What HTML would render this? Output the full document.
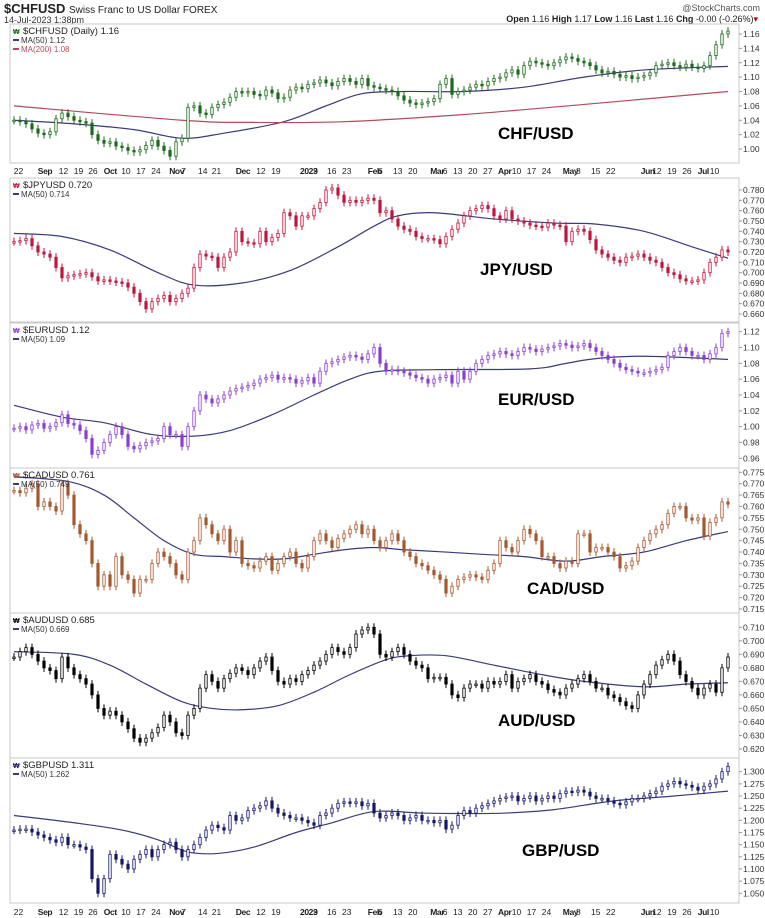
<!DOCTYPE html>
<html><head><meta charset="utf-8"><style>
body{margin:0;background:#fff}
svg{display:block;font-family:"Liberation Sans",Arial,sans-serif}
</style></head><body>
<svg id="c" width="765" height="918" viewBox="0 0 765 918" xmlns="http://www.w3.org/2000/svg">
<text x="4" y="13" font-size="13" font-weight="bold" fill="#222">$CHFUSD <tspan font-size="10" font-weight="normal">Swiss Franc to US Dollar FOREX</tspan></text>
<text x="4" y="23" font-size="9" fill="#333">14-Jul-2023 1:38pm</text>
<text x="760" y="11" font-size="9" fill="#555" text-anchor="end">@StockCharts.com</text>
<text x="758" y="22" font-size="9" fill="#222" text-anchor="end"><tspan font-weight="bold">Open</tspan> 1.16 <tspan font-weight="bold">High</tspan> 1.17 <tspan font-weight="bold">Low</tspan> 1.16 <tspan font-weight="bold">Last</tspan> 1.16 <tspan font-weight="bold">Chg</tspan> -0.00 (-0.26%)<tspan fill="#b00">▾</tspan></text>
</svg>
<script>
const chfClose=[1.040,1.038,1.035,1.028,1.022,1.020,1.024,1.042,1.050,1.045,
1.040,1.038,1.036,1.020,1.012,1.008,1.010,1.004,1.002,0.998,
0.996,0.999,1.005,1.012,1.004,0.998,0.990,1.010,1.015,1.058,
1.060,1.050,1.048,1.058,1.062,1.065,1.072,1.080,1.078,1.080,
1.076,1.074,1.082,1.078,1.070,1.072,1.082,1.086,1.084,1.090,
1.092,1.096,1.092,1.088,1.094,1.098,1.094,1.090,1.098,1.088,
1.086,1.084,1.082,1.080,1.074,1.068,1.064,1.062,1.064,1.066,
1.070,1.090,1.098,1.076,1.080,1.082,1.086,1.090,1.088,1.094,
1.098,1.100,1.106,1.110,1.104,1.116,1.122,1.120,1.118,1.116,
1.120,1.124,1.128,1.126,1.122,1.120,1.116,1.110,1.106,1.108,
1.104,1.100,1.102,1.098,1.100,1.102,1.106,1.116,1.118,1.120,
1.116,1.114,1.118,1.114,1.112,1.116,1.130,1.145,1.160,1.164];
const chfMaIdx=[0,10,20,28,35,45,52,58,65,75,85,95,105,119];
const chfMaVal=[1.040,1.035,1.027,1.015,1.022,1.038,1.060,1.077,1.080,1.080,1.086,1.100,1.110,1.115];
const chfMa200Idx=[0,28,40,55,75,95,119];
const chfMa200Val=[1.060,1.040,1.037,1.038,1.048,1.062,1.080];
const chfTicks=[1.16,1.14,1.12,1.10,1.08,1.06,1.04,1.02,1.00];

const jpyClose=[0.730,0.731,0.733,0.726,0.720,0.718,0.715,0.705,0.695,0.697,
0.698,0.699,0.700,0.696,0.692,0.693,0.692,0.691,0.690,0.686,
0.680,0.672,0.665,0.672,0.675,0.678,0.672,0.675,0.680,0.685,
0.705,0.718,0.716,0.715,0.705,0.715,0.720,0.740,0.730,0.729,
0.728,0.740,0.730,0.734,0.738,0.758,0.755,0.745,0.755,0.755,
0.762,0.768,0.780,0.782,0.775,0.768,0.770,0.768,0.770,0.772,
0.770,0.758,0.760,0.752,0.745,0.742,0.740,0.735,0.733,0.733,
0.732,0.728,0.735,0.742,0.748,0.755,0.760,0.762,0.765,0.762,
0.755,0.752,0.760,0.752,0.750,0.748,0.746,0.745,0.744,0.748,
0.746,0.745,0.730,0.740,0.742,0.740,0.732,0.722,0.718,0.715,
0.712,0.710,0.715,0.716,0.718,0.715,0.712,0.710,0.705,0.700,
0.698,0.694,0.692,0.692,0.693,0.700,0.710,0.715,0.722,0.720];
const jpyMaIdx=[0,8,16,24,30,38,46,54,60,64,70,80,90,97,105,113,119];
const jpyMaVal=[0.738,0.735,0.722,0.700,0.688,0.690,0.702,0.725,0.745,0.755,0.758,0.752,0.748,0.747,0.740,0.725,0.714];
const jpyTicks=[0.780,0.770,0.760,0.750,0.740,0.730,0.720,0.710,0.700,0.690,0.680,0.670,0.660];

const eurClose=[0.998,1.000,0.996,1.002,1.004,0.998,1.000,1.005,1.015,1.004,
1.002,0.995,0.985,0.965,0.970,0.980,0.990,1.000,0.990,0.975,
0.972,0.976,0.980,0.982,0.985,1.000,0.990,0.990,0.975,1.000,
1.020,1.040,1.035,1.030,1.035,1.040,1.045,1.048,1.050,1.052,
1.055,1.060,1.062,1.065,1.060,1.062,1.060,1.055,1.058,1.062,
1.055,1.070,1.080,1.082,1.085,1.088,1.090,1.088,1.085,1.092,
1.100,1.080,1.070,1.072,1.070,1.068,1.065,1.062,1.060,1.055,
1.060,1.062,1.065,1.055,1.070,1.060,1.070,1.080,1.085,1.090,
1.092,1.095,1.092,1.090,1.095,1.100,1.098,1.095,1.098,1.100,
1.102,1.105,1.103,1.100,1.102,1.105,1.100,1.095,1.090,1.085,
1.080,1.075,1.072,1.070,1.068,1.068,1.070,1.072,1.075,1.090,
1.095,1.100,1.095,1.090,1.090,1.085,1.092,1.100,1.118,1.120];
const eurMaIdx=[0,8,15,23,30,36,43,50,56,61,70,86,92,97,105,119];
const eurMaVal=[1.027,1.012,1.005,0.990,0.988,0.995,1.015,1.040,1.060,1.070,1.072,1.073,1.080,1.086,1.089,1.085];
const eurTicks=[1.12,1.10,1.08,1.06,1.04,1.02,1.00,0.98,0.96];

const cadClose=[0.767,0.766,0.768,0.770,0.760,0.762,0.760,0.758,0.770,0.765,
0.752,0.748,0.745,0.735,0.725,0.730,0.725,0.738,0.730,0.728,
0.722,0.728,0.728,0.735,0.740,0.738,0.735,0.730,0.728,0.740,
0.745,0.755,0.752,0.748,0.745,0.750,0.740,0.745,0.735,0.734,
0.733,0.736,0.738,0.732,0.735,0.738,0.740,0.735,0.733,0.738,
0.745,0.748,0.745,0.742,0.746,0.748,0.750,0.752,0.748,0.750,
0.745,0.742,0.745,0.748,0.745,0.740,0.738,0.735,0.734,0.732,
0.730,0.728,0.722,0.725,0.728,0.729,0.730,0.729,0.728,0.732,
0.735,0.745,0.742,0.740,0.745,0.750,0.748,0.745,0.738,0.738,
0.735,0.733,0.736,0.735,0.748,0.748,0.740,0.742,0.742,0.740,
0.738,0.733,0.734,0.736,0.742,0.745,0.748,0.750,0.752,0.757,
0.760,0.760,0.755,0.754,0.755,0.747,0.753,0.755,0.762,0.761];
const cadMaIdx=[0,9,15,20,25,30,35,40,45,50,55,60,65,72,78,85,92,98,105,112,119];
const cadMaVal=[0.773,0.771,0.765,0.755,0.745,0.739,0.738,0.737,0.737,0.739,0.741,0.742,0.741,0.740,0.739,0.738,0.736,0.738,0.740,0.745,0.749];
const cadTicks=[0.775,0.770,0.765,0.760,0.755,0.750,0.745,0.740,0.735,0.730,0.725,0.720,0.715];

const audClose=[0.688,0.692,0.695,0.690,0.685,0.680,0.678,0.672,0.688,0.680,
0.675,0.672,0.668,0.660,0.650,0.645,0.648,0.645,0.640,0.635,
0.628,0.625,0.628,0.632,0.636,0.645,0.640,0.632,0.630,0.645,
0.650,0.665,0.675,0.670,0.665,0.672,0.676,0.680,0.678,0.675,
0.680,0.685,0.688,0.678,0.670,0.668,0.672,0.670,0.675,0.678,
0.682,0.685,0.690,0.695,0.692,0.690,0.695,0.705,0.708,0.710,
0.705,0.690,0.688,0.692,0.695,0.690,0.685,0.682,0.680,0.672,
0.673,0.673,0.668,0.660,0.658,0.665,0.668,0.668,0.665,0.670,
0.668,0.670,0.675,0.665,0.670,0.672,0.675,0.670,0.668,0.664,
0.662,0.660,0.665,0.668,0.672,0.675,0.670,0.665,0.665,0.660,
0.658,0.655,0.652,0.650,0.660,0.668,0.675,0.682,0.686,0.690,
0.685,0.675,0.670,0.665,0.660,0.665,0.668,0.662,0.680,0.688];
const audMaIdx=[0,10,16,22,28,33,38,44,50,56,62,66,72,80,88,95,105,112,119];
const audMaVal=[0.692,0.690,0.682,0.668,0.655,0.650,0.649,0.652,0.662,0.675,0.686,0.689,0.689,0.682,0.675,0.670,0.666,0.668,0.669];
const audTicks=[0.710,0.700,0.690,0.680,0.670,0.660,0.650,0.640,0.630,0.620];

const gbpClose=[1.180,1.182,1.182,1.176,1.170,1.165,1.160,1.155,1.165,1.150,
1.150,1.145,1.140,1.080,1.050,1.080,1.130,1.120,1.110,1.100,
1.120,1.130,1.140,1.125,1.140,1.150,1.155,1.140,1.125,1.140,
1.150,1.165,1.180,1.190,1.185,1.180,1.210,1.200,1.205,1.220,
1.225,1.230,1.240,1.225,1.215,1.210,1.205,1.205,1.200,1.195,
1.190,1.210,1.215,1.225,1.235,1.238,1.235,1.238,1.230,1.235,
1.215,1.205,1.210,1.215,1.210,1.200,1.205,1.210,1.200,1.200,
1.195,1.200,1.182,1.190,1.210,1.220,1.215,1.225,1.230,1.235,
1.240,1.245,1.248,1.250,1.240,1.245,1.250,1.240,1.245,1.250,
1.245,1.255,1.260,1.258,1.262,1.258,1.250,1.245,1.245,1.240,
1.235,1.232,1.238,1.245,1.245,1.250,1.255,1.260,1.270,1.275,
1.280,1.275,1.272,1.268,1.262,1.270,1.275,1.285,1.300,1.311];
const gbpMaIdx=[0,10,18,24,29,34,40,47,53,60,68,75,82,90,100,110,119];
const gbpMaVal=[1.210,1.195,1.180,1.160,1.135,1.132,1.145,1.175,1.195,1.218,1.215,1.214,1.215,1.222,1.240,1.250,1.260];
const gbpTicks=[1.300,1.275,1.250,1.225,1.200,1.175,1.150,1.125,1.100,1.075,1.050];

const dateLabels=["22","Sep","12","19","26","Oct","10","17","24","Nov","7","14","21","Dec","12","19","2023","9","16","23","Feb","6","13","20","Mar","6","13","20","27","Apr","10","17","24","May","8","15","22","Jun","12","19","26","Jul","10"];
const dateIdx=[0.3,4.3,7.8,10.3,12.7,15.3,18.2,20.7,23.2,26.2,28.2,31,33.3,37.3,40.7,43.2,48,50.2,52.5,55,59.3,61,63.5,66,69.7,71.8,73.5,76,78.5,81,83.3,85.8,88.3,91.8,94,96.5,99,104.8,106.7,109.2,111.7,114.3,116.3];

const NS='http://www.w3.org/2000/svg';
const svg=document.getElementById('c');
const X0=14,DX=6,PL=10,PR=739;
function xs(i){return X0+i*DX;}
function mk(tag,attrs,parent){const e=document.createElementNS(NS,tag);for(const k in attrs)e.setAttribute(k,attrs[k]);(parent||svg).appendChild(e);return e;}

const panels=[
 {key:'chf',top:24,bot:163,closes:chfClose,ticks:chfTicks,tv0:1.16,ty0:34,tv1:1.00,ty1:149,col:'#1c6b1c',dec:2,
  legend:['$CHFUSD (Daily) 1.16','MA(50) 1.12','MA(200) 1.08'],ma:[[chfMaIdx,chfMaVal,'#3b3b7a'],[chfMa200Idx,chfMa200Val,'#b34a5e']],label:'CHF/USD',lx:498,ly:139},
 {key:'jpy',top:178,bot:322,closes:jpyClose,ticks:jpyTicks,tv0:0.78,ty0:190,tv1:0.66,ty1:314,col:'#c0153d',dec:3,
  legend:['$JPYUSD 0.720','MA(50) 0.714'],ma:[[jpyMaIdx,jpyMaVal,'#3b3b7a']],label:'JPY/USD',lx:480,ly:275},
 {key:'eur',top:323,bot:468,closes:eurClose,ticks:eurTicks,tv0:1.12,ty0:331.7,tv1:0.96,ty1:458.3,col:'#8a3fd0',dec:2,
  legend:['$EURUSD 1.12','MA(50) 1.09'],ma:[[eurMaIdx,eurMaVal,'#3b3b7a']],label:'EUR/USD',lx:498,ly:405},
 {key:'cad',top:468,bot:613,closes:cadClose,ticks:cadTicks,tv0:0.775,ty0:472.3,tv1:0.715,ty1:609,col:'#a5582e',dec:3,
  legend:['$CADUSD 0.761','MA(50) 0.749'],ma:[[cadMaIdx,cadMaVal,'#3b3b7a']],label:'CAD/USD',lx:527,ly:594},
 {key:'aud',top:613,bot:758,closes:audClose,ticks:audTicks,tv0:0.71,ty0:627.3,tv1:0.62,ty1:749,col:'#000000',dec:3,
  legend:['$AUDUSD 0.685','MA(50) 0.669'],ma:[[audMaIdx,audMaVal,'#3b3b7a']],label:'AUD/USD',lx:498,ly:726},
 {key:'gbp',top:758,bot:903,closes:gbpClose,ticks:gbpTicks,tv0:1.30,ty0:771.7,tv1:1.05,ty1:893.3,col:'#15166a',dec:3,
  legend:['$GBPUSD 1.311','MA(50) 1.262'],ma:[[gbpMaIdx,gbpMaVal,'#3b3b7a']],label:'GBP/USD',lx:522,ly:856}
];

panels.forEach(p=>{
  const y=v=>p.ty0+(p.tv0-v)*(p.ty1-p.ty0)/(p.tv0-p.tv1);
  const g=mk('g',{});
  
  
  const fr=mk('rect',{x:PL,y:p.top,width:PR-PL,height:p.bot-p.top,fill:'#fff',stroke:'#c8c8c8','stroke-width':1},g);
  
  
  p.ticks.forEach(v=>{
    const t=mk('text',{x:743,y:y(v)+3,'font-size':8.5,fill:'#333'},g);
    t.textContent=v.toFixed(p.dec);
    
    
    mk('line',{x1:PR,x2:PR+3,y1:y(v),y2:y(v),stroke:'#999'},g);
  });
  const lab=mk('text',{x:p.lx,y:p.ly,'font-size':17,'font-weight':'bold',fill:'#000'},g);
  lab.textContent=p.label;
  
  
  p.ma.forEach((m,k)=>{
    const pts=m[0].map((ix,j)=>[xs(ix),y(m[1][j])]);
    let d='M'+pts[0][0]+','+pts[0][1];
    for(let j=1;j<pts.length;j++){
      const p0=pts[j-2]||pts[j-1],p1=pts[j-1],p2=pts[j],p3=pts[j+1]||pts[j];
      const c1x=p1[0]+(p2[0]-p0[0])/6,c1y=p1[1]+(p2[1]-p0[1])/6;
      const c2x=p2[0]-(p3[0]-p1[0])/6,c2y=p2[1]-(p3[1]-p1[1])/6;
      d+=' C'+c1x+','+c1y+' '+c2x+','+c2y+' '+p2[0]+','+p2[1];
    }
    const pa=mk('path',{d:d,fill:'none',stroke:m[2],'stroke-width':1.2},g);
    
    
  });
  p.closes.forEach((c,i)=>{
    const o=i>0?p.closes[i-1]:c;
    const x=xs(i);
    const yt=Math.min(y(o),y(c)),yb=Math.max(y(o),y(c));
    const w=mk('line',{x1:x,x2:x,y1:yt-4,y2:yb+4,stroke:p.col,'stroke-width':1},g);
    
    
    const up=c>=o;
    const b=mk('rect',{x:x-1.2,y:yt,width:2.4,height:Math.max(1.5,yb-yt),fill:up?'#fff':p.col,stroke:p.col,'stroke-width':0.8},g);
    
    
  });
  p.legend.forEach((s,k)=>{
    const lx=PL+3,ly=p.top+10+k*9;
    if(k==0){mk('text',{x:lx,y:ly,'font-size':7,fill:p.col,'font-weight':'bold'},g).textContent='₩';}
    else{mk('line',{x1:lx,x2:lx+6,y1:ly-3,y2:ly-3,stroke:(k==2?'#b34a5e':'#3b3b7a'),'stroke-width':2},g);}
    const t=mk('text',{x:lx+(k==0?10:8),y:ly,'font-size':k==0?9.5:8,fill:k==2?'#b34a5e':(k==0?'#222':'#333')},g);
    t.textContent=s;
    
    
  });
});

[170,911].forEach((yy,a)=>{
  dateLabels.forEach((s,j)=>{
    const bold=isNaN(+s)||s=='2023';
    const t=mk('text',{x:xs(dateIdx[j])-2,y:yy+4,'font-size':8.5,'font-weight':bold?'bold':'normal','letter-spacing':bold?-0.4:0,fill:'#222'});
    t.textContent=s;
    
    
  });
});
</script>
</body></html>
